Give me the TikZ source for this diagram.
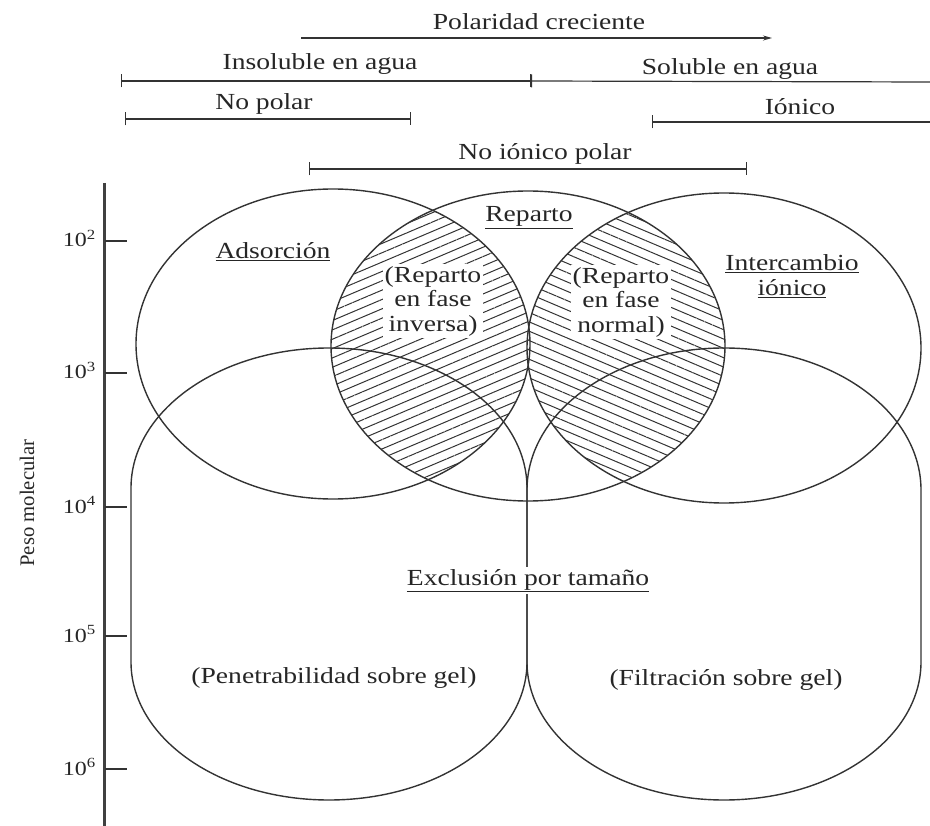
\documentclass[tikz,border=0pt]{standalone}
\usepackage{fontspec}
\setmainfont{Liberation Serif}[FakeStretch=1.2]
\newfontfamily\rotfont{Liberation Serif}
\usetikzlibrary{arrows.meta, patterns.meta}

\begin{document}
\begin{tikzpicture}[
		x=1pt, y=1pt,
		tx/.style = {text=black!85, font=\fontsize{23}{24.5}\selectfont, inner sep=1pt, align=center},
		wb/.style = {tx, fill=white, inner sep=2pt},
		nm/.style = {tx, font=\fontsize{20}{22}\selectfont, anchor=base east},
		br/.style = {{Bar[width=13pt]}-{Bar[width=13pt]}, draw=black!80, line width=1.2pt},
		bo/.style = {{Bar[width=13pt]}-, draw=black!80, line width=1.2pt},
		cv/.style = {draw=black!80, line width=1.4pt},
		tk/.style = {draw=black!80, line width=1.1pt},
		hl/.style = {pattern={Lines[angle=23, distance=8.6pt, line width=1pt]}, pattern color=black!80},
		hr/.style = {pattern={Lines[angle=-23, distance=8.6pt, line width=1pt]}, pattern color=black!80}
		]
		\useasboundingbox (0, 0) rectangle (930, -826);
		
		%Hatching
		\begin{scope}
			\clip		(333, -344)	ellipse	[x radius=197, y radius=155];
			\path[hl]	(528, -346)	ellipse	[x radius=197, y radius=155];
		\end{scope}
		\begin{scope}
			\clip		(724, -348)	ellipse	[x radius=197, y radius=155];
			\path[hr]	(528, -346)	ellipse	[x radius=197, y radius=155];
		\end{scope}
		
		%Shapes
		\draw[cv]	(333, -344)	ellipse	[x radius=197, y radius=155];
		\draw[cv]	(528, -346)	ellipse	[x radius=197, y radius=155];
		\draw[cv]	(724, -348)	ellipse	[x radius=197, y radius=155];
		
		\draw[cv]	(131, -488)	arc	[start angle=180, end angle=0, x radius=198, y radius=140]
					-- (527, -662)	arc	[start angle=0, end angle=-180, x radius=198, y radius=138] -- cycle;
		\draw[cv]	(527, -490)	arc	[start angle=180, end angle=0, x radius=197, y radius=142]
					-- (921, -662)	arc	[start angle=0, end angle=-180, x radius=197, y radius=138] -- cycle;
		
		%Axis
		\coordinate	(axt)	at	(104, -183);
		\coordinate	(axb)	at	(104, -826);
		\draw[draw=black!75, line width=3pt]	(axt)	--	(axb);
		\coordinate	(t2)	at	(105, -241);
		\coordinate	(t3)	at	(105, -373);
		\coordinate	(t4)	at	(105, -507);
		\coordinate	(t5)	at	(105, -636);
		\coordinate	(t6)	at	(105, -769);
		\draw[tk]	(t2)	--	++(22, 0);
		\draw[tk]	(t3)	--	++(22, 0);
		\draw[tk]	(t4)	--	++(22, 0);
		\draw[tk]	(t5)	--	++(22, 0);
		\draw[tk]	(t6)	--	++(22, 0);
		
		\node[nm]	(e2)	at	(97, -247)	{10\textsuperscript{2}};
		\node[nm]	(e3)	at	(97, -379)	{10\textsuperscript{3}};
		\node[nm]	(e4)	at	(97, -513)	{10\textsuperscript{4}};
		\node[nm]	(e5)	at	(97, -642)	{10\textsuperscript{5}};
		\node[nm]	(e6)	at	(97, -775)	{10\textsuperscript{6}};
		\node[tx, rotate=90, font=\fontsize{20.7}{24}\rotfont]	(pm)	at	(27, -503)	{Peso molecular};
		
		%Ranges
		\coordinate	(pola)	at	(301, -38);
		\coordinate	(polb)	at	(772, -38);
		\coordinate	(insa)	at	(121, -81);
		\coordinate	(insb)	at	(531, -81);
		\coordinate	(solb)	at	(930, -82);
		\coordinate	(nopa)	at	(125, -119);
		\coordinate	(nopb)	at	(411, -119);
		\coordinate	(iona)	at	(652, -122);
		\coordinate	(ionb)	at	(930, -122);
		\coordinate	(nipa)	at	(309, -169);
		\coordinate	(nipb)	at	(747, -169);
		
		\draw[-{Stealth[length=9pt, width=5pt]}, draw=black!80, line width=1.2pt]	(pola)	--	(polb);
		\draw[br]	(insa)	--	(insb);
		\draw[bo]	(insb)	--	(solb);
		\draw[br]	(nopa)	--	(nopb);
		\draw[bo]	(iona)	--	(ionb);
		\draw[br]	(nipa)	--	(nipb);
		
		\node[tx, anchor=base]	(pol)	at	(539, -30)	{Polaridad creciente};
		\node[tx, anchor=base]	(ins)	at	(320, -70)	{Insoluble en agua};
		\node[tx, anchor=base]	(sol)	at	(730, -75)	{Soluble en agua};
		\node[tx, anchor=base]	(nop)	at	(264, -110)	{No polar};
		\node[tx, anchor=base]	(ion)	at	(800, -115)	{Iónico};
		\node[tx, anchor=base]	(nip)	at	(545, -160)	{No iónico polar};
		
		%Labels
		\node[tx, anchor=base]	(ads)	at	(273, -259)	{\underline{Adsorción}};
		\node[tx, anchor=base]	(rep)	at	(529, -222)	{\underline{Reparto}};
		\node[tx]	(ict)	at	(792, -276)	{\underline{Intercambio}\\\underline{iónico}};
		\node[wb]	(rfi)	at	(433, -301)	{(Reparto\\en fase\\inversa)};
		\node[wb]	(rfn)	at	(621, -302)	{(Reparto\\en fase\\normal)};
		\node[wb, anchor=base]	(exc)	at	(528, -585)	{\underline{Exclusión por tamaño}};
		\node[tx, anchor=base]	(pen)	at	(334, -683)	{(Penetrabilidad sobre gel)};
		\node[tx, anchor=base]	(fil)	at	(726, -685)	{(Filtración sobre gel)};
	\end{tikzpicture}
\end{document}
